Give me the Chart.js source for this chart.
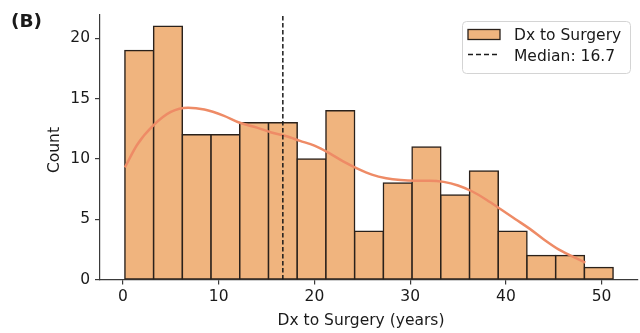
<!DOCTYPE html>
<html>
<head>
<meta charset="utf-8">
<script src="https://cdn.jsdelivr.net/npm/chart.js@4.4.1/dist/chart.umd.min.js"></script>
<style>
  html, body { margin: 0; padding: 0; background: #ffffff; }
  #wrap { position: relative; width: 640px; height: 333px; }
</style>
</head>
<body>
<div id="wrap"><canvas id="chart" width="640" height="333"></canvas></div>
<script>
// Histogram of time from diagnosis to surgery (3-year bins)
const binCenters = [1.7, 4.7, 7.7, 10.7, 13.7, 16.7, 19.7, 22.7, 25.7, 28.7, 31.7, 34.7, 37.7, 40.7, 43.7, 46.7, 49.7];
const counts     = [19, 21, 12, 12, 13, 13, 10, 14, 4, 8, 11, 7, 9, 4, 2, 2, 1];

// Kernel density estimate, scaled to counts
const kdeX = [0.2, 1.5, 3.2, 5.0, 6.8, 8.5, 10.5, 12.2, 14.0, 15.5, 17.0, 18.5, 20.0, 21.5, 23.0, 24.5, 26.0, 27.5, 29.0, 30.5, 32.0, 33.5, 35.0, 36.5, 38.0, 39.5, 41.0, 42.5, 44.0, 45.5, 47.0, 48.3];
const kdeY = [9.3, 11.2, 12.8, 13.9, 14.25, 14.1, 13.6, 13.0, 12.6, 12.2, 11.9, 11.5, 11.1, 10.5, 9.8, 9.2, 8.7, 8.4, 8.25, 8.2, 8.2, 8.1, 7.8, 7.3, 6.6, 5.8, 5.0, 4.2, 3.3, 2.5, 1.9, 1.4];

const medianValue = 16.7;
const xTicks = [0, 10, 20, 30, 40, 50];
const yTicks = [0, 5, 10, 15, 20];

const seriesLabel = 'Dx to Surgery';
const medianLabel = 'Median: ' + medianValue.toFixed(1);
const xTitle = 'Dx to Surgery (years)';
const yTitle = 'Count';
const panelTag = '(B)';

const FONT = '"DejaVu Sans", sans-serif';
const FONT_SIZE = 15.5;
const BAR_FILL = '#f0b47e';
const BAR_EDGE = '#2a211b';
const KDE_COLOR = '#ee8b66';
const AXIS_COLOR = '#3a3a3a';
const TEXT_COLOR = '#1a1a1a';
const EDGE_W = 1.5;

const histData = binCenters.map((c, i) => ({ x: c, y: counts[i] }));
const kdeData = kdeX.map((x, i) => ({ x: x, y: kdeY[i] }));
const medianData = [{ x: medianValue, y: 0 }, { x: medianValue, y: 22 }];

// Panel tag, axis titles and the legend box
const decorations = {
  id: 'decorations',
  afterDraw(chart) {
    const ctx = chart.ctx;
    const area = chart.chartArea;
    ctx.save();
    ctx.fillStyle = TEXT_COLOR;

    ctx.font = 'bold 18.5px ' + FONT;
    ctx.textBaseline = 'alphabetic';
    ctx.textAlign = 'left';
    ctx.fillText(panelTag, 11, 26.5);

    ctx.font = FONT_SIZE + 'px ' + FONT;
    ctx.textAlign = 'center';
    ctx.textBaseline = 'middle';
    ctx.fillText(xTitle, 361, 321);

    ctx.save();
    ctx.translate(55, 150);
    ctx.rotate(-Math.PI / 2);
    ctx.fillText(yTitle, 0, 0);
    ctx.restore();

    // legend
    const bx = area.right - 176, by = 21.5, bw = 168, bh = 52;
    ctx.beginPath();
    ctx.roundRect(bx + 0.5, by, bw, bh, 4);
    ctx.fillStyle = 'rgba(255,255,255,0.85)';
    ctx.fill();
    ctx.strokeStyle = '#d4d4d4';
    ctx.lineWidth = 1;
    ctx.stroke();

    ctx.fillStyle = BAR_FILL;
    ctx.fillRect(bx + 6, by + 8, 32, 10);
    ctx.strokeStyle = BAR_EDGE;
    ctx.lineWidth = 1.3;
    ctx.strokeRect(bx + 6, by + 8, 32, 10);

    ctx.beginPath();
    ctx.setLineDash([5, 3]);
    ctx.moveTo(bx + 6, by + 33);
    ctx.lineTo(bx + 38, by + 33);
    ctx.strokeStyle = '#1a1a1a';
    ctx.lineWidth = 1.5;
    ctx.stroke();
    ctx.setLineDash([]);

    ctx.fillStyle = TEXT_COLOR;
    ctx.font = FONT_SIZE + 'px ' + FONT;
    ctx.textAlign = 'left';
    ctx.textBaseline = 'alphabetic';
    ctx.fillText(seriesLabel, bx + 52, by + 18);
    ctx.fillText(medianLabel, bx + 52, by + 39);
    ctx.restore();
  }
};

new Chart(document.getElementById('chart'), {
  data: {
    datasets: [
      {
        type: 'line',
        label: medianLabel,
        data: medianData,
        borderColor: '#1a1a1a',
        borderWidth: 1.5,
        borderDash: [4.5, 2.5],
        pointRadius: 0,
        fill: false,
        order: 1
      },
      {
        type: 'line',
        label: 'KDE',
        data: kdeData,
        borderColor: KDE_COLOR,
        borderWidth: 2.5,
        pointRadius: 0,
        cubicInterpolationMode: 'monotone',
        fill: false,
        order: 2
      },
      {
        type: 'bar',
        label: seriesLabel,
        data: histData,
        backgroundColor: BAR_FILL,
        borderColor: BAR_EDGE,
        borderWidth: EDGE_W,
        borderSkipped: false,
        inflateAmount: EDGE_W / 2,
        barPercentage: 1,
        categoryPercentage: 1,
        order: 3
      }
    ]
  },
  options: {
    responsive: false,
    devicePixelRatio: 1,
    animation: false,
    events: [],
    layout: { padding: { top: 12, right: 2, left: 0, bottom: 0 } },
    plugins: {
      legend: { display: false },
      tooltip: { enabled: false },
      title: { display: false }
    },
    scales: {
      x: {
        type: 'linear',
        min: -2.4,
        max: 53.8,
        offset: false,
        afterBuildTicks: (s) => { s.ticks = xTicks.map(v => ({ value: v })); },
        afterFit: (s) => { s.height = 53.5; },
        grid: { offset: false, drawOnChartArea: false, drawTicks: true, tickLength: 5, color: AXIS_COLOR, lineWidth: 1.2 },
        border: { display: true, color: AXIS_COLOR, width: 1.2 },
        ticks: { color: TEXT_COLOR, font: { family: FONT, size: FONT_SIZE }, padding: 3, maxRotation: 0 }
      },
      y: {
        type: 'linear',
        min: 0,
        max: 22,
        afterBuildTicks: (s) => { s.ticks = yTicks.map(v => ({ value: v })); },
        afterFit: (s) => { s.width = 100; },
        grid: { drawOnChartArea: false, drawTicks: true, tickLength: 5, color: AXIS_COLOR, lineWidth: 1.2 },
        border: { display: true, color: AXIS_COLOR, width: 1.2 },
        ticks: { color: TEXT_COLOR, font: { family: FONT, size: FONT_SIZE }, padding: 5 }
      }
    }
  },
  plugins: [decorations]
});
</script>
</body>
</html>
